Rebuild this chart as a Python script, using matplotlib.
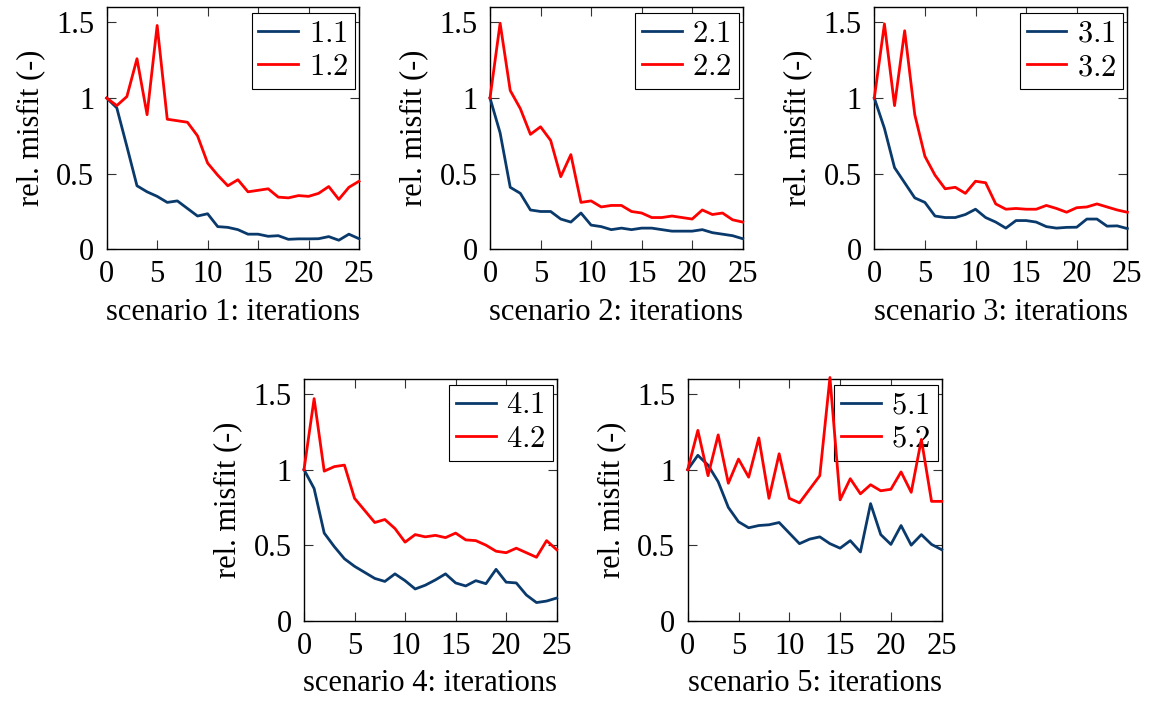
import matplotlib
matplotlib.use("Agg")
import matplotlib.pyplot as plt

# iteration index shared by all scenarios
iterations = list(range(26))

s1_1 = [1.0, 0.935, 0.68, 0.42, 0.38, 0.35, 0.31, 0.32, 0.27, 0.22, 0.235, 0.15, 0.145,
        0.13, 0.10, 0.10, 0.086, 0.09, 0.066, 0.069, 0.069, 0.07, 0.084, 0.06, 0.10, 0.07]
s1_2 = [1.0, 0.95, 1.01, 1.26, 0.89, 1.48, 0.86, 0.85, 0.84, 0.75, 0.57, 0.49, 0.42,
        0.46, 0.38, 0.39, 0.40, 0.345, 0.34, 0.355, 0.35, 0.37, 0.415, 0.33, 0.41, 0.45]

s2_1 = [1.0, 0.77, 0.41, 0.37, 0.26, 0.25, 0.25, 0.20, 0.18, 0.24, 0.16, 0.15, 0.13,
        0.14, 0.13, 0.14, 0.14, 0.13, 0.12, 0.12, 0.12, 0.13, 0.11, 0.10, 0.09, 0.07]
s2_2 = [1.0, 1.495, 1.05, 0.93, 0.76, 0.81, 0.72, 0.48, 0.626, 0.31, 0.32, 0.28, 0.29,
        0.29, 0.25, 0.24, 0.21, 0.21, 0.22, 0.21, 0.20, 0.26, 0.23, 0.24, 0.195, 0.18]

s3_1 = [1.0, 0.80, 0.54, 0.44, 0.34, 0.31, 0.22, 0.21, 0.21, 0.23, 0.265, 0.21, 0.18,
        0.14, 0.19, 0.19, 0.18, 0.15, 0.14, 0.145, 0.146, 0.20, 0.20, 0.153, 0.155, 0.137]
s3_2 = [1.0, 1.49, 0.95, 1.445, 0.89, 0.615, 0.49, 0.40, 0.41, 0.37, 0.45, 0.44, 0.30,
        0.265, 0.27, 0.265, 0.265, 0.29, 0.27, 0.245, 0.275, 0.28, 0.30, 0.28, 0.26, 0.245]

s4_1 = [1.0, 0.875, 0.58, 0.49, 0.41, 0.36, 0.32, 0.28, 0.26, 0.31, 0.265, 0.21, 0.235,
        0.27, 0.31, 0.25, 0.23, 0.265, 0.245, 0.34, 0.255, 0.25, 0.17, 0.12, 0.13, 0.15]
s4_2 = [1.0, 1.47, 0.99, 1.02, 1.03, 0.81, 0.73, 0.65, 0.67, 0.61, 0.52, 0.57, 0.555,
        0.565, 0.55, 0.58, 0.535, 0.53, 0.50, 0.46, 0.45, 0.48, 0.45, 0.42, 0.53, 0.47]

s5_1 = [1.0, 1.095, 1.03, 0.92, 0.75, 0.655, 0.615, 0.63, 0.635, 0.65, 0.58, 0.51, 0.54,
        0.555, 0.51, 0.48, 0.53, 0.455, 0.775, 0.57, 0.505, 0.63, 0.50, 0.57, 0.505, 0.47]
s5_2 = [1.0, 1.26, 0.96, 1.23, 0.91, 1.07, 0.95, 1.21, 0.81, 1.105, 0.81, 0.78, 0.87,
        0.96, 1.61, 0.80, 0.94, 0.84, 0.90, 0.86, 0.87, 0.985, 0.85, 1.20, 0.79, 0.79]

scenarios = [
    ("1", s1_1, s1_2),
    ("2", s2_1, s2_2),
    ("3", s3_1, s3_2),
    ("4", s4_1, s4_2),
    ("5", s5_1, s5_2),
]

y_ticks = [0, 0.5, 1, 1.5]
y_tick_labels = ["0", "0.5", "1", "1.5"]
x_ticks = [0, 5, 10, 15, 20, 25]

BLUE = "#0a3a6c"
RED = "#ff0000"

plt.rcParams["font.family"] = ["Liberation Serif", "DejaVu Serif"]
plt.rcParams["mathtext.fontset"] = "cm"

W, H = 1152, 702
fig = plt.figure(figsize=(W / 100, H / 100), dpi=100)

# axes boxes in pixels: left, right, top, bottom
boxes = [
    (106.7, 359.0, 7.3, 249.3),
    (490.0, 742.7, 7.3, 249.3),
    (874.3, 1127.3, 7.3, 249.3),
    (304.0, 556.7, 379.0, 620.7),
    (687.7, 941.7, 379.0, 620.7),
]

for (name, a, b), (l, r, t, btm) in zip(scenarios, boxes):
    ax = fig.add_axes([l / W, 1 - btm / H, (r - l) / W, (btm - t) / H])
    ax.plot(iterations, a, color=BLUE, lw=2.0, label=f"${name}.1$", clip_on=False, zorder=3)
    ax.plot(iterations, b, color=RED, lw=2.0, label=f"${name}.2$", clip_on=False, zorder=3)
    ax.set_xlim(0, 25)
    ax.set_ylim(0, 1.6)
    ax.set_xticks(x_ticks)
    ax.set_yticks(y_ticks)
    ax.set_yticklabels(y_tick_labels)
    ax.tick_params(direction="in", length=6.5, width=0.8, top=True, right=True,
                   labelsize=22, color="#333333")
    ax.tick_params(axis="y", pad=9)
    ax.tick_params(axis="x", pad=8)
    for sp in ax.spines.values():
        sp.set_linewidth(1.0)
    ax.set_ylabel("rel. misfit (-)", fontsize=22, labelpad=8)
    ax.set_xlabel(f"scenario {name}: iterations", fontsize=22, labelpad=6)
    # legend box anchored a few pixels inside the upper-right corner
    ax_w, ax_h = r - l, btm - t
    leg = ax.legend(loc="upper right", bbox_to_anchor=(1 - 4 / ax_w, 1 - 5.5 / ax_h),
                    fontsize=22, frameon=True, fancybox=False,
                    edgecolor="black", framealpha=1, borderaxespad=0,
                    handlelength=1.3, handletextpad=0.35, borderpad=0.22,
                    labelspacing=0.15)
    leg.get_frame().set_linewidth(0.8)
    leg.set_zorder(2)

fig.savefig("out.png", dpi=100)
